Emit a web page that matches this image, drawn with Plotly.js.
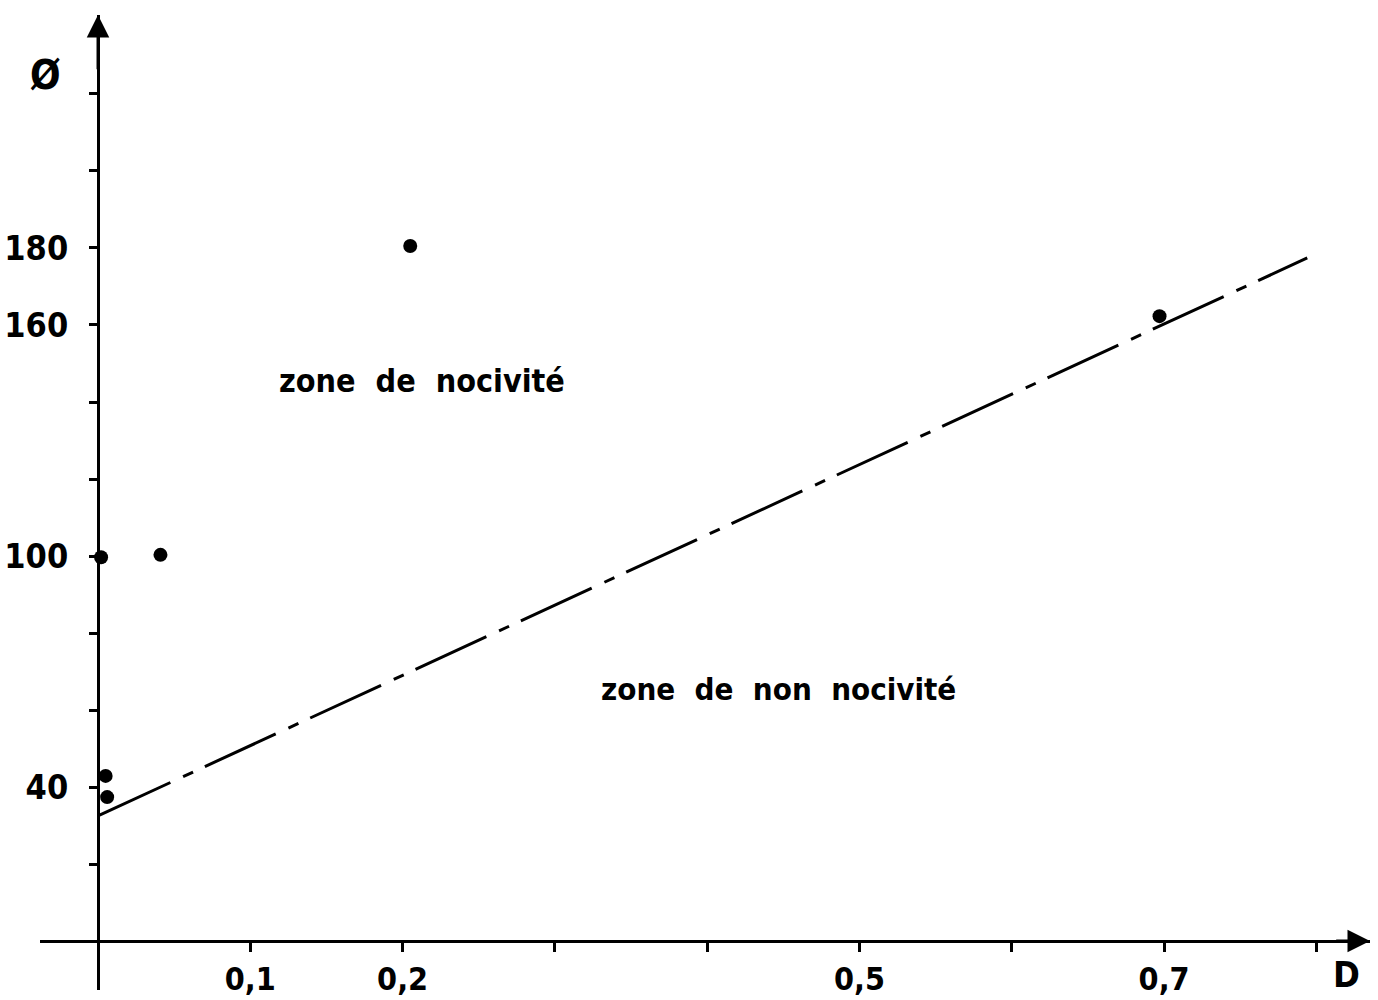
<!DOCTYPE html>
<html>
<head>
<meta charset="utf-8">
<script src="https://cdn.plot.ly/plotly-3.0.1.min.js"></script>
<style>
html,body{margin:0;padding:0;background:#fff;}
#chart{width:1378px;height:1000px;}
#chart text{font-stretch:condensed !important;}
</style>
</head>
<body>
<div id="chart"></div>
<script>
// Data
var pointD = [0.002, 0.041, 0.205, 0.697, 0.005, 0.006];
var pointPhi = [99.7, 100.3, 180.5, 162.3, 42.9, 37.4];
var limitD = [0.001, 0.794];
var limitPhi = [32.7, 177.4];
var xTickVals = [0.1, 0.2, 0.3, 0.4, 0.5, 0.6, 0.7, 0.8];
var xTickText = ["0,1", "0,2", "", "", "0,5", "", "0,7", ""];
var yTickVals = [20, 40, 60, 80, 100, 120, 140, 160, 180, 200, 220];
var yTickText = ["", "40", "", "", "100", "", "", "160", "180", "", ""];
var zoneLabels = ["zone  de  nocivité", "zone  de  non  nocivité"];
var zoneD = [0.213, 0.447];
var zonePhi = [145.5, 65.5];

var FONT = "'DejaVu Sans Condensed', 'DejaVu Sans', sans-serif";

var traces = [
  {
    x: limitD, y: limitPhi, mode: 'lines', type: 'scatter',
    line: {color: '#000', width: 3, dash: '78px,14px,11px,13px'},
    hoverinfo: 'skip', showlegend: false
  },
  {
    x: pointD, y: pointPhi, mode: 'markers', type: 'scatter',
    marker: {color: '#000', size: 14},
    showlegend: false
  }
];

var layout = {
  width: 1378, height: 1000,
  margin: {l: 40, r: 8, t: 15, b: 10},
  paper_bgcolor: '#fff', plot_bgcolor: '#fff',
  showlegend: false,
  font: {family: FONT, color: '#000', weight: 'bold'},
  xaxis: {
    range: [-0.0381, 0.8352],
    anchor: 'free', position: 0.0503,
    showgrid: false, zeroline: true, zerolinecolor: '#000', zerolinewidth: 3,
    showline: false,
    tickmode: 'array', tickvals: xTickVals, ticktext: xTickText,
    ticks: 'outside', ticklen: 10, tickwidth: 3, tickcolor: '#000',
    ticklabelstandoff: 0,
    tickfont: {family: FONT, size: 32, color: '#000', weight: 'bold'},
    automargin: false
  },
  yaxis: {
    range: [-12.7, 240.5],
    anchor: 'free', position: 0.0436,
    showgrid: false, zeroline: true, zerolinecolor: '#000', zerolinewidth: 3,
    showline: false,
    tickmode: 'array', tickvals: yTickVals, ticktext: yTickText,
    ticks: 'outside', ticklen: 9, tickwidth: 3, tickcolor: '#000',
    ticklabelstandoff: 14,
    tickfont: {family: FONT, size: 34, color: '#000', weight: 'bold'},
    automargin: false
  },
  annotations: [
    {x: zoneD[0], y: zonePhi[0], text: zoneLabels[0], showarrow: false, xref: 'x', yref: 'y',
     font: {family: FONT, size: 32, color: '#000', weight: 'bold'}},
    {x: zoneD[1], y: zonePhi[1], text: zoneLabels[1], showarrow: false, xref: 'x', yref: 'y',
     font: {family: FONT, size: 31, color: '#000', weight: 'bold'}},
    {x: 0.004, y: 0.938, xref: 'paper', yref: 'paper', xanchor: 'center', yanchor: 'middle', text: 'Ø', showarrow: false,
     font: {family: FONT, size: 40, color: '#000', weight: 'bold'}},
    {x: 0.982, y: 0.016, xref: 'paper', yref: 'paper', xanchor: 'center', yanchor: 'middle', text: 'D', showarrow: false,
     font: {family: FONT, size: 36, color: '#000', weight: 'bold'}},
    // axis arrowheads
    {x: 0, y: 240.5, ax: 0, ay: 226, axref: 'x', ayref: 'y', xref: 'x', yref: 'y', text: '',
     showarrow: true, arrowhead: 2, arrowsize: 1.5, arrowwidth: 3, arrowcolor: '#000'},
    {x: 0.8352, y: 0, ax: 0.812, ay: 0, axref: 'x', ayref: 'y', xref: 'x', yref: 'y', text: '',
     showarrow: true, arrowhead: 2, arrowsize: 1.5, arrowwidth: 3, arrowcolor: '#000'}
  ]
};

Plotly.newPlot('chart', traces, layout, {displayModeBar: false, staticPlot: true});
</script>
</body>
</html>
